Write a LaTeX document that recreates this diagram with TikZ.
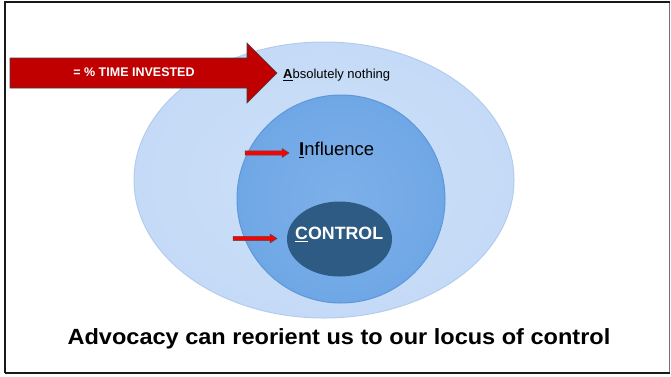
\documentclass[tikz,border=0pt]{standalone}
\usepackage{fontspec}
\usepackage{graphicx}
\setmainfont{Liberation Sans}
\definecolor{outerblue}{HTML}{C4DAF6}
\definecolor{outeredge}{HTML}{B3CDEE}
\definecolor{midblue}{HTML}{6FA7E6}
\definecolor{midedge}{HTML}{5E97D9}
\definecolor{innerblue}{HTML}{2D5B83}
\definecolor{bigred}{HTML}{C00000}
\tikzset{
  smallarrow/.style={draw=black!70, fill=red, line width=0.5pt},
  lbl/.style={inner sep=0pt, anchor=west},
}
\newcommand{\ul}[1]{\underline{#1}}
\newcommand{\smallarr}[3]{% x1, x2, y
  \draw[smallarrow] (#1,#3-2.2) -- (#2-7,#3-2.2) -- (#2-7,#3-4.5) -- (#2,#3) -- (#2-7,#3+4.5) -- (#2-7,#3+2.2) -- (#1,#3+2.2) -- cycle;}
\begin{document}
\begin{tikzpicture}[x=1pt,y=-1pt]
\useasboundingbox (0,0) rectangle (671,376);
% frame
\draw[draw=black!55, line width=1pt] (669.5,2) -- (669.5,373);
\draw[draw=black!90, line width=2.5pt] (5,373) -- (5,2) -- (669.5,2);
\draw[draw=black!90, line width=2.5pt] (5,373) -- (670,373);
% circles
\shade[inner color=outerblue!85!white, outer color=outerblue] (324,180) ellipse (190 and 138);
\draw[draw=outeredge, line width=1pt] (324,180) ellipse (190 and 138) node (outer) {};
\shade[inner color=midblue!90!white, outer color=midblue] (341,199) ellipse (104 and 104);
\draw[draw=midedge, line width=1pt] (341,199) ellipse (104 and 104) node (mid) {};
\fill[innerblue] (339.5,239) ellipse (52.5 and 37.5) node (inner) {};
% big arrow
\draw[draw=black!75, fill=bigred, line width=0.6pt] (10,58) -- (247,58) -- (247,43) -- (277,73) -- (247,103) -- (247,88) -- (10,88) -- cycle;
\node[text=white, font=\bfseries\fontsize{12.5}{14}\selectfont, inner sep=0pt] (time) at (134,72.5) {= \% TIME INVESTED};
% labels
\node[lbl, font=\fontsize{13}{15}\selectfont] (abs) at (283,75) {\ul{\textbf{A}}bsolutely nothing};
\node[lbl, font=\fontsize{18.5}{21}\selectfont] (infl) at (299,150) {\ul{\textbf{I}}nfluence};
\node[lbl, font=\bfseries\fontsize{17.8}{20}\selectfont, text=white] (ctrl) at (295,234) {\ul{C}ONTROL};
% small arrows
\smallarr{245}{289}{153}
\smallarr{233}{277}{238.5}
% caption
\node[font=\bfseries\fontsize{22}{26}\selectfont, inner sep=0pt] (cap) at (339,339) {\scalebox{1.07}[1]{Advocacy can reorient us to our locus of control}};
\end{tikzpicture}
\end{document}
